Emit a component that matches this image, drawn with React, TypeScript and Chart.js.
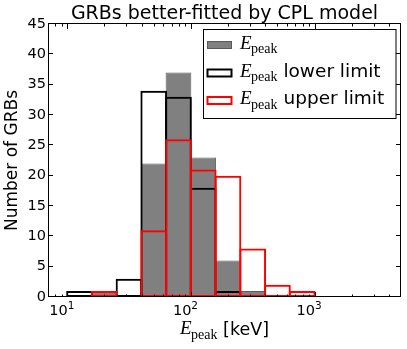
import { useEffect, useRef } from "react";
import { Chart, registerables } from "chart.js";

Chart.register(...registerables);

// ---- data ----
const binEdges = [10, 15.85, 25.12, 39.81, 63.1, 100, 158.5, 251.2, 398.1, 631.0, 1000];
const epeakCounts = [0, 1, 0, 22, 37, 23, 6, 1, 0, 0];
const lowerLimitCounts = [1, 0, 3, 34, 33, 18, 1, 0, 0, 0];
const upperLimitCounts = [0, 1, 0, 11, 26, 21, 20, 8, 2, 1];
const xMajorTicks = [10, 100, 1000];
const xMinorMultipliers = [2, 3, 4, 5, 6, 7, 8, 9];
const yTickValues = [0, 5, 10, 15, 20, 25, 30, 35, 40, 45];
const titleText = "GRBs better-fitted by CPL model";
const yAxisLabel = "Number of GRBs";
const xAxisUnit = " [keV]";
const legendSuffixes = ["", " lower limit", " upper limit"];

const SANS = "'DejaVu Sans', sans-serif";
const SERIF = "'Liberation Serif', 'DejaVu Serif', serif";

function toPoints(counts: number[]) {
  return counts.map((c, i) => ({ x: Math.sqrt(binEdges[i] * binEdges[i + 1]), y: c }));
}

function drawEpeak(ctx: CanvasRenderingContext2D, x: number, baseline: number, eSize: number, subSize: number, subDrop: number) {
  ctx.textAlign = "left";
  ctx.textBaseline = "alphabetic";
  ctx.fillStyle = "#000";
  ctx.font = `italic ${eSize}px ${SERIF}`;
  ctx.fillText("E", x, baseline);
  const ew = ctx.measureText("E").width;
  ctx.font = `${subSize}px ${SERIF}`;
  ctx.fillText("peak", x + ew - 0.5, baseline + subDrop);
  const pw = ctx.measureText("peak").width;
  return ew - 0.5 + pw;
}

const overlayPlugin = {
  id: "overlay",
  afterDatasetsDraw(chart: any) {
    const { ctx, chartArea: a, scales } = chart;
    const xs = scales.x;
    const ys = scales.y;
    ctx.save();
    ctx.strokeStyle = "#000";
    ctx.lineWidth = 1;
    // frame
    ctx.strokeRect(a.left + 0.5, a.top - 0.5, a.right - a.left - 1, a.bottom - a.top);

    const major = 5;
    const minor = 2.5;
    ctx.beginPath();
    yTickValues.forEach((v) => {
      const py = Math.round(ys.getPixelForValue(v)) - 0.5;
      ctx.moveTo(a.left, py);
      ctx.lineTo(a.left + major, py);
      ctx.moveTo(a.right, py);
      ctx.lineTo(a.right - major, py);
    });
    xMajorTicks.forEach((v) => {
      const px = Math.round(xs.getPixelForValue(v)) + 0.5;
      ctx.moveTo(px, a.bottom);
      ctx.lineTo(px, a.bottom - major);
      ctx.moveTo(px, a.top);
      ctx.lineTo(px, a.top + major);
    });
    [1, 10, 100, 1000].forEach((dec) => {
      xMinorMultipliers.forEach((m) => {
        const v = m * dec;
        if (v <= xs.min || v >= xs.max) return;
        const px = Math.round(xs.getPixelForValue(v)) + 0.5;
        ctx.moveTo(px, a.bottom);
        ctx.lineTo(px, a.bottom - minor);
        ctx.moveTo(px, a.top);
        ctx.lineTo(px, a.top + minor);
      });
    });
    ctx.stroke();

    // x tick labels 10^n
    ctx.fillStyle = "#000";
    xMajorTicks.forEach((v) => {
      const px = xs.getPixelForValue(v);
      ctx.font = `14.5px ${SANS}`;
      ctx.textAlign = "right";
      ctx.textBaseline = "alphabetic";
      ctx.fillText("10", px + 0.5, a.bottom + 18);
      ctx.font = `10.5px ${SANS}`;
      ctx.textAlign = "left";
      ctx.fillText(String(Math.round(Math.log10(v))), px + 0.5, a.bottom + 11.5);
    });

    // x axis label
    ctx.font = `italic 19px ${SERIF}`;
    const ew = ctx.measureText("E").width - 0.5;
    ctx.font = `14px ${SERIF}`;
    const pw = ctx.measureText("peak").width;
    ctx.font = `17.5px ${SANS}`;
    const uw = ctx.measureText(xAxisUnit).width;
    const total = ew + pw + uw;
    const cx = (a.left + a.right) / 2;
    const startX = cx - total / 2;
    const lw = drawEpeak(ctx, startX, a.bottom + 37, 19, 14, 4.5);
    ctx.font = `17.5px ${SANS}`;
    ctx.textAlign = "left";
    ctx.fillText(xAxisUnit, startX + lw, a.bottom + 37.5);

    // legend
    const boxL = 203.5;
    const boxT = 29.5;
    const boxR = a.right - 5;
    const boxB = 118.5;
    ctx.fillStyle = "#fff";
    ctx.fillRect(boxL, boxT, boxR - boxL, boxB - boxT);
    ctx.strokeStyle = "#000";
    ctx.lineWidth = 1;
    ctx.strokeRect(boxL, boxT, boxR - boxL, boxB - boxT);
    const baselines = [48.5, 76.5, 104];
    const hx = 207.5;
    const hw = 24;
    const hh = 7;
    baselines.forEach((bl, i) => {
      const cy = bl - 3.5;
      if (i === 0) {
        ctx.fillStyle = "#808080";
        ctx.fillRect(hx, cy - hh / 2, hw, hh);
        ctx.strokeStyle = "#5a5a5a";
        ctx.lineWidth = 1;
        ctx.strokeRect(hx, cy - hh / 2, hw, hh);
      } else {
        ctx.strokeStyle = i === 1 ? "#000" : "#ff0000";
        ctx.lineWidth = 2;
        ctx.strokeRect(hx, cy - hh / 2, hw, hh);
      }
      const w = drawEpeak(ctx, 240, bl, 19, 14, 4.5);
      if (legendSuffixes[i]) {
        ctx.font = `18.5px ${SANS}`;
        ctx.fillStyle = "#000";
        ctx.textAlign = "left";
        ctx.fillText(legendSuffixes[i], 240 + w, bl);
      }
    });
    ctx.restore();
  },
};

export default function App() {
  const ref = useRef<HTMLCanvasElement>(null);
  useEffect(() => {
    if (!ref.current) return;
    Chart.defaults.font.family = SANS;
    const chart = new Chart(ref.current, {
      type: "bar",
      data: {
        datasets: [
          {
            label: "Epeak upper limit",
            data: toPoints(upperLimitCounts),
            backgroundColor: "rgba(0,0,0,0)",
            borderColor: "#ff0000",
            borderWidth: 2,
            borderSkipped: false,
            barPercentage: 1.08,
            categoryPercentage: 1,
            grouped: false,
            order: 1,
          },
          {
            label: "Epeak lower limit",
            data: toPoints(lowerLimitCounts),
            backgroundColor: "rgba(0,0,0,0)",
            borderColor: "#000000",
            borderWidth: 2,
            borderSkipped: false,
            barPercentage: 1.08,
            categoryPercentage: 1,
            grouped: false,
            order: 2,
          },
          {
            label: "Epeak",
            data: toPoints(epeakCounts),
            backgroundColor: "#808080",
            borderColor: "#5e5e5e",
            borderWidth: 1,
            borderSkipped: false,
            barPercentage: 1.04,
            categoryPercentage: 1,
            grouped: false,
            order: 3,
          },
        ] as any,
      },
      options: {
        responsive: false,
        animation: false,
        devicePixelRatio: 1,
        layout: { padding: { left: 0, right: 6, top: 0, bottom: 0 } },
        plugins: {
          legend: { display: false },
          tooltip: { enabled: false },
          title: {
            display: true,
            text: titleText,
            fullSize: false,
            color: "#000",
            font: { family: SANS, size: 19, weight: "normal", lineHeight: 1 },
            padding: { top: 5, bottom: 0 },
          },
        },
        scales: {
          x: {
            type: "logarithmic",
            min: 7,
            max: 5000,
            bounds: "data",
            grid: { display: false, drawTicks: false },
            border: { display: false },
            ticks: { display: false },
            afterBuildTicks: (s: any) => {
              s.ticks = xMajorTicks.map((v) => ({ value: v }));
            },
            afterFit: (s: any) => {
              s.height = 52;
            },
          },
          y: {
            type: "linear",
            min: 0,
            max: 45,
            grid: { display: false, drawTicks: false },
            border: { display: false },
            ticks: { stepSize: 5, color: "#000", padding: 2, font: { family: SANS, size: 14.5 } },
            title: {
              display: true,
              text: yAxisLabel,
              color: "#000",
              font: { family: SANS, size: 17 },
              padding: { top: 2, bottom: 0 },
            },
            afterFit: (s: any) => {
              s.width = 48;
            },
          },
        },
      } as any,
      plugins: [overlayPlugin],
    });
    return () => chart.destroy();
  }, []);
  return (
    <div style={{ position: "absolute", left: 0, top: 0, width: 407, height: 349 }}>
      <canvas ref={ref} width={407} height={349} style={{ display: "block", width: 407, height: 349 }} />
    </div>
  );
}
